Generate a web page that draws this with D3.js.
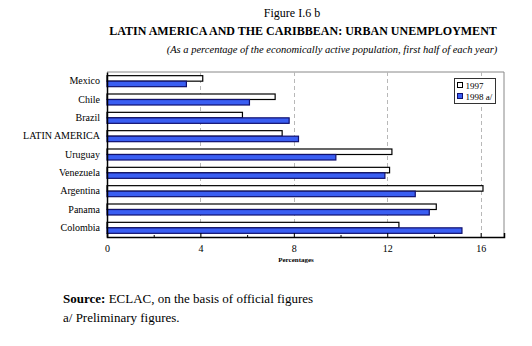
<!DOCTYPE html>
<html>
<head>
<meta charset="utf-8">
<script src="https://cdn.jsdelivr.net/npm/d3@7"></script>
<style>
  body { margin: 0; background: #fff; }
  svg text { font-family: "Liberation Serif", "Times New Roman", Times, serif !important; }
</style>
</head>
<body>
<svg id="chart" width="532" height="346" font-family="Liberation Serif"></svg>
<script>
// data
const countries = ["Mexico", "Chile", "Brazil", "LATIN AMERICA", "Uruguay", "Venezuela", "Argentina", "Panama", "Colombia"];
const seriesNames = ["1997", "1998 a/"];
const values1997 = [4.1, 7.2, 5.8, 7.5, 12.2, 12.1, 16.1, 14.1, 12.5];
const values1998 = [3.4, 6.1, 7.8, 8.2, 9.8, 11.9, 13.2, 13.8, 15.2];
const xTicks = [0, 4, 8, 12, 16];
const xMinorTicks = [2, 6, 10, 14];

const svg = d3.select("#chart");
const plot = { left: 107, right: 504, top: 72, bottom: 237 };

const x = d3.scaleLinear().domain([0, 17]).range([plot.left, plot.right]);
const y = d3.scaleBand().domain(countries).range([plot.top, plot.bottom])
    .paddingInner(0.4).paddingOuter(0.2);
const ySub = d3.scaleBand().domain(seriesNames).range([0, y.bandwidth()]);
const fills = { "1997": "#ffffff", "1998 a/": "#3a5ef2" };
const strokes = { "1997": "#000000", "1998 a/": "#10106e" };

// titles
svg.append("text").attr("x", 292).attr("y", 17).attr("text-anchor", "middle")
    .style("font-size", "12px").text("Figure I.6 b");
svg.append("text").attr("x", 303).attr("y", 35).attr("text-anchor", "middle")
    .style("font-size", "12px").style("font-weight", "bold")
    .text("LATIN AMERICA AND THE CARIBBEAN: URBAN UNEMPLOYMENT");
svg.append("text").attr("x", 332).attr("y", 53).attr("text-anchor", "middle")
    .style("font-size", "10.5px").style("font-style", "italic")
    .text("(As a percentage of the economically active population, first half of each year)");

// frame (top/right grey)
svg.append("path")
    .attr("d", `M${plot.left},${plot.top}H${plot.right}V${plot.bottom}`)
    .attr("fill", "none").attr("stroke", "#888").attr("stroke-width", 1);

// dashed grid
svg.append("g").selectAll("line").data(xTicks.slice(1)).enter().append("line")
    .attr("x1", d => Math.round(x(d)) + 0.5).attr("x2", d => Math.round(x(d)) + 0.5)
    .attr("y1", plot.top).attr("y2", plot.bottom)
    .attr("stroke", "#b8b8b8").attr("stroke-dasharray", "4,3");

// bars
const groups = svg.append("g").selectAll("g").data(countries).enter().append("g")
    .attr("transform", d => `translate(0,${y(d)})`);

groups.selectAll("rect")
    .data((d, i) => [
        { key: "1997", value: values1997[i] },
        { key: "1998 a/", value: values1998[i] }
    ])
    .enter().append("rect")
    .attr("x", x(0))
    .attr("y", d => ySub(d.key))
    .attr("width", d => x(d.value) - x(0))
    .attr("height", ySub.bandwidth())
    .attr("fill", d => fills[d.key])
    .attr("stroke", d => strokes[d.key])
    .attr("stroke-width", 1.2);

// x axis
const xAxis = d3.axisBottom(x).tickValues(xTicks).tickSize(-4).tickPadding(8);
const gx = svg.append("g").attr("transform", `translate(0,${plot.bottom})`).call(xAxis)
    .attr("font-family", null);
gx.select(".domain").attr("stroke", "#000").attr("stroke-width", 1.5);
gx.selectAll("text").style("font-size", "10px");
svg.append("g").attr("transform", `translate(0,${plot.bottom})`)
    .call(d3.axisBottom(x).tickValues(xMinorTicks).tickSize(-2).tickFormat(""))
    .select(".domain").remove();

// y axis line
const gy = svg.append("g").attr("transform", `translate(${plot.left},0)`)
    .call(d3.axisLeft(y).tickSize(0).tickPadding(7))
    .attr("font-family", null);
gy.select(".domain").attr("stroke", "#000").attr("stroke-width", 1.5);
gy.selectAll("text").style("font-size", "10px");

svg.append("text").attr("x", 296).attr("y", 262).attr("text-anchor", "middle")
    .style("font-size", "7px").style("font-weight", "bold").text("Percentages");

// legend
const legend = svg.append("g").attr("transform", "translate(454.5,78.5)");
legend.append("rect").attr("width", 41).attr("height", 25)
    .attr("fill", "#fff").attr("stroke", "#333");
seriesNames.forEach((s, i) => {
    legend.append("rect").attr("x", 3).attr("y", 4 + i * 11).attr("width", 5).attr("height", 5)
        .attr("fill", fills[s]).attr("stroke", strokes[s]);
    legend.append("text").attr("x", 11).attr("y", 10 + i * 11)
        .style("font-size", "9px").text(s);
});

// notes
const src = svg.append("text").attr("x", 63).attr("y", 303).style("font-size", "13px");
src.append("tspan").style("font-weight", "bold").text("Source:");
src.append("tspan").text(" ECLAC, on the basis of official figures");
svg.append("text").attr("x", 63).attr("y", 322).style("font-size", "13px")
    .text("a/ Preliminary figures.");
</script>
</body>
</html>
